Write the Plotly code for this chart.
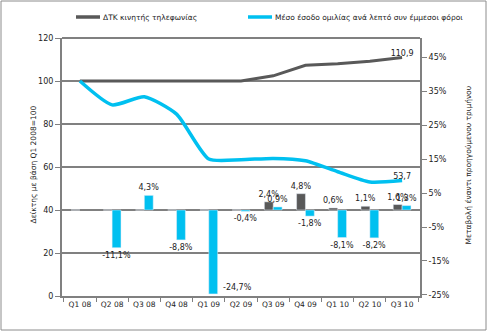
import plotly.graph_objects as go

quarters = ["Q1 08", "Q2 08", "Q3 08", "Q4 08", "Q1 09", "Q2 09", "Q3 09", "Q4 09", "Q1 10", "Q2 10", "Q3 10"]
cpi_index = [100, 100, 100, 100, 100, 100, 102.4, 107.3, 108.0, 109.2, 110.9]
rev_index = [100, 88.9, 92.7, 84.6, 63.7, 63.4, 64.0, 62.9, 57.8, 53.0, 53.7]
cpi_change = [0, 0, 0, 0, 0, 0, 2.4, 4.8, 0.6, 1.1, 1.6]
rev_change = [None, -11.1, 4.3, -8.8, -24.7, -0.4, 0.9, -1.8, -8.1, -8.2, 1.3]
series_names = ["ΔΤΚ κινητής τηλεφωνίας", "Μέσο έσοδο ομιλίας ανά λεπτό συν έμμεσοι φόροι"]

GRAY = "#595959"
CYAN = "#00C0F0"
AX = "#808080"
FONT = "DejaVu Sans"

def pct(v):
    if v is None or v == 0:
        return ""
    return f"{v:.1f}%".replace(".", ",")

# label for the deepest bar goes beside it instead of below
deep_idx = min(range(len(rev_change)), key=lambda i: rev_change[i] if rev_change[i] is not None else 0)
rev_text = [pct(v) if i != deep_idx else "" for i, v in enumerate(rev_change)]

fig = go.Figure()
fig.add_trace(go.Bar(x=quarters, y=cpi_change, yaxis="y2", marker_color=GRAY,
                     text=[pct(v) for v in cpi_change], textposition="outside", constraintext="none",
                     textangle=0, textfont=dict(size=8, color="#222"), cliponaxis=False, showlegend=False))
fig.add_trace(go.Bar(x=quarters, y=rev_change, yaxis="y2", marker_color=CYAN,
                     text=rev_text, textposition="outside", constraintext="none",
                     textangle=0, textfont=dict(size=8, color="#222"), cliponaxis=False, showlegend=False))
fig.add_trace(go.Scatter(x=quarters, y=cpi_index, mode="lines+text", name=series_names[0],
                         line=dict(color=GRAY, width=3),
                         text=[""] * (len(cpi_index) - 1) + [f"{cpi_index[-1]:.1f}".replace(".", ",")],
                         textposition="top center", textfont=dict(size=8, color="#222"), cliponaxis=False,
                         showlegend=False))
fig.add_trace(go.Scatter(x=quarters, y=rev_index, mode="lines+text", name=series_names[1],
                         line=dict(color=CYAN, width=3.5, shape="spline", smoothing=0.6),
                         text=[""] * (len(rev_index) - 1) + [f"{rev_index[-1]:.1f}".replace(".", ",")],
                         textposition="top center", textfont=dict(size=8, color="#222"), cliponaxis=False,
                         showlegend=False))

L, R, T, B = 62, 67, 38, 35
W, H = 487, 331
pw, ph = W - L - R, H - T - B

def px(xp):
    return (xp - L) / pw

def py(yp):
    return (H - B - yp) / ph

shapes = [
    dict(type="rect", xref="paper", yref="paper", x0=px(1), x1=px(486), y0=py(330), y1=py(1),
         line=dict(color="#8c8c8c", width=1)),
    dict(type="line", xref="paper", yref="paper", x0=0, x1=1, y0=1, y1=1, line=dict(color=AX, width=2)),
    dict(type="line", xref="paper", yref="paper", x0=px(76), x1=px(100), y0=py(17), y1=py(17),
         line=dict(color=GRAY, width=3.5)),
    dict(type="line", xref="paper", yref="paper", x0=px(248), x1=px(272), y0=py(17), y1=py(17),
         line=dict(color=CYAN, width=3.5)),
]

annotations = [
    dict(text=series_names[0], xref="paper", yref="paper", x=px(101), y=py(17), xanchor="left",
         yanchor="middle", showarrow=False, font=dict(size=7.5, color="#222")),
    dict(text=series_names[1], xref="paper", yref="paper", x=px(273), y=py(17), xanchor="left",
         yanchor="middle", showarrow=False, font=dict(size=7.5, color="#222")),
    dict(text="Δείκτης με βάση Q1 2008=100", xref="paper", yref="paper",
         x=px(26), y=py(165), textangle=-90, showarrow=False, font=dict(size=7.5, color="#222")),
    dict(text="Μεταβολή έναντι προηγούμενου τριμήνου", xref="paper", yref="paper",
         x=px(474), y=py(165), textangle=-90, showarrow=False, font=dict(size=7.5, color="#222")),
    dict(text=pct(rev_change[deep_idx]), x=quarters[deep_idx], y=rev_change[deep_idx], xref="x", yref="y2",
         xanchor="left", yanchor="bottom", xshift=12, yshift=0, showarrow=False,
         font=dict(size=8, color="#222")),
]

fig.update_layout(
    width=W, height=H, margin=dict(l=L, r=R, t=T, b=B),
    paper_bgcolor="white", plot_bgcolor="white",
    font=dict(family=FONT, size=8, color="#222"),
    barmode="group", bargap=0.45, bargroupgap=0.0,
    uniformtext=dict(minsize=8, mode="show"),
    xaxis=dict(type="category", tickson="boundaries", ticks="outside", ticklen=4, tickcolor=AX,
               showline=True, linecolor=AX, linewidth=2, showgrid=False, mirror=False,
               tickangle=0, tickfont=dict(size=7.5)),
    yaxis=dict(range=[0, 120], dtick=20, ticks="outside", ticklen=5, tickcolor=AX,
               showline=True, linecolor=AX, linewidth=2, showgrid=True, gridcolor=AX, gridwidth=1.5,
               zeroline=False, tickfont=dict(size=8)),
    yaxis2=dict(overlaying="y", side="right", range=[-25.3, 50.6],
                tickvals=[-25, -15, -5, 5, 15, 25, 35, 45],
                ticktext=["-25%", "-15%", "-5%", "5%", "15%", "25%", "35%", "45%"],
                ticks="outside", ticklen=5, tickcolor=AX, showline=True, linecolor=AX, linewidth=2,
                showgrid=False, zeroline=False, tickfont=dict(size=8)),
    showlegend=False,
    shapes=shapes,
    annotations=annotations,
)

fig.write_html("out.html")
